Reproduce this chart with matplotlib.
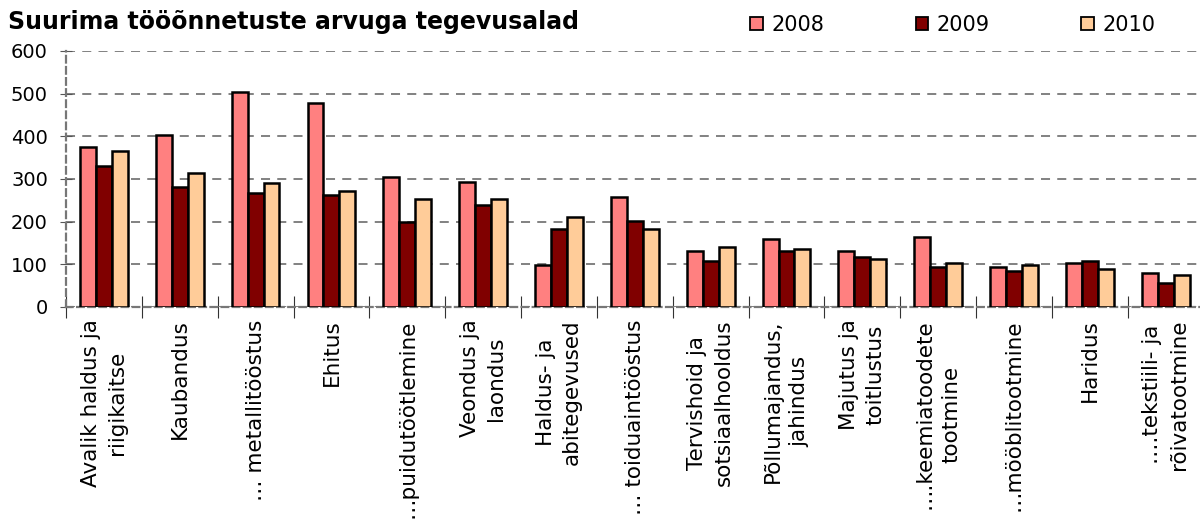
import matplotlib.pyplot as plt
import numpy as np
from matplotlib.patches import Patch

categories = [
    "Avalik haldus ja\nriigikaitse", "Kaubandus", "… metallitööstus", "Ehitus",
    "…puidutöötlemine", "Veondus ja\nlaondus", "Haldus- ja\nabitegevused",
    "… toiduaintööstus", "Tervishoid ja\nsotsiaalhooldus", "Põllumajandus,\njahindus",
    "Majutus ja\ntoitlustus", "….keemiatoodete\ntootmine", "…mööblitootmine",
    "Haridus", "….tekstiili- ja\nrõivatootmine",
]
years = ["2008", "2009", "2010"]
v2008 = [374, 402, 505, 477, 304, 294, 98, 257, 131, 159, 131, 164, 93, 103, 79]
v2009 = [331, 280, 266, 262, 200, 238, 182, 201, 107, 131, 117, 93, 84, 107, 56]
v2010 = [365, 313, 290, 271, 252, 252, 210, 182, 140, 136, 112, 103, 98, 89, 75]
colors = ["#FF8080", "#800000", "#FFCC99"]

fig = plt.figure(figsize=(12, 5.31), dpi=100)
ax = fig.add_axes([0.055, 0.422, 0.948, 0.482])

x = np.arange(len(categories))
w = 0.21
for k, vals in enumerate([v2008, v2009, v2010]):
    ax.bar(x + (k - 1) * w, vals, width=w, color=colors[k], edgecolor="black",
           linewidth=1.8, zorder=3)

ax.set_ylim(0, 600)
ax.set_xlim(-0.5, len(categories) - 0.5)
ax.set_yticks(range(0, 601, 100))
ax.yaxis.grid(True, linestyle=(0, (5, 4)), color="#777777", linewidth=1.3, zorder=0)
ax.tick_params(axis="y", labelsize=14, direction="inout", length=8, color="#555555", pad=9)

# category boundaries as ticks, labels as minor
ax.set_xticks(np.arange(-0.5, len(categories), 1.0))
ax.set_xticklabels([])
ax.tick_params(axis="x", which="major", direction="inout", length=16, color="#333333")
ax.set_xticks(x, minor=True)
ax.set_xticklabels(categories, minor=True, rotation=90, fontsize=15.5,
                   va="top", ha="center", multialignment="center", linespacing=1.4)
ax.tick_params(axis="x", which="minor", length=0, pad=9)

for side in ["top", "right"]:
    ax.spines[side].set_visible(False)
for side in ["left", "bottom"]:
    ax.spines[side].set_color("#777777")
    ax.spines[side].set_linestyle((0, (3, 2)))
    ax.spines[side].set_linewidth(1.6)

fig.text(0.007, 0.958, "Suurima tööõnnetuste arvuga tegevusalad", fontsize=17,
         fontweight="bold", va="center", ha="left")

handles = [Patch(facecolor=c, edgecolor="black", linewidth=1.3, label=y)
           for c, y in zip(colors, years)]
fig.legend(handles=handles, loc="center", bbox_to_anchor=(0.794, 0.953), ncol=3,
           frameon=False, fontsize=15, handlelength=0.6, handleheight=0.6,
           handletextpad=0.4, columnspacing=4.4)

fig.savefig("out.png", dpi=100)
